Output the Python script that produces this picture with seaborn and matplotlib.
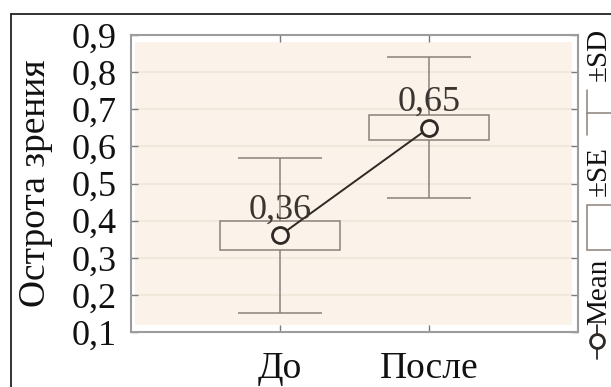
import numpy as np
import matplotlib
matplotlib.use("Agg")
import matplotlib.pyplot as plt
from matplotlib.patches import Rectangle
from matplotlib.lines import Line2D
import seaborn as sns

# Visual acuity before and after treatment: mean, standard error, standard deviation
groups = ["До", "После"]
means = np.array([0.36, 0.65])
se = np.array([0.038, 0.034])
sd = np.array([0.21, 0.19])
mean_labels = ["0,36", "0,65"]

y_ticks = [0.1, 0.2, 0.3, 0.4, 0.5, 0.6, 0.7, 0.8, 0.9]
y_tick_labels = ["0,1", "0,2", "0,3", "0,4", "0,5", "0,6", "0,7", "0,8", "0,9"]
y_label = "Острота зрения"
legend_items = ["Mean", "±SE", "±SD"]

sns.set_theme(style="white")
plt.rcParams["font.family"] = ["Liberation Serif", "DejaVu Serif"]

W, H = 611, 387
fig = plt.figure(figsize=(W / 100, H / 100), dpi=100)


def fx(px):
    return px / W


def fy(py):
    return 1 - py / H


ax = fig.add_axes([fx(131), fy(332), fx(578) - fx(131), fy(35) - fy(332)])

fill = "#FBF3E9"
grid_c = "#F0E6D9"
box_c = "#8C8178"
dark = "#2E2925"

ax.set_facecolor("white")
ax.add_patch(Rectangle((0.009, 0.024), 0.978, 0.952, transform=ax.transAxes,
                       facecolor=fill, edgecolor="none", zorder=0))
for t in y_ticks[1:-1]:
    ax.axhline(t, xmin=0.009, xmax=0.987, color=grid_c, lw=1.2, zorder=0.5)

pos = np.arange(len(groups))
box_w = 0.81
cap_w = 0.57

# ±SD whiskers
ax.vlines(pos, means - sd, means + sd, color=box_c, lw=1.1, zorder=1)
ax.hlines(means - sd, pos - cap_w / 2, pos + cap_w / 2, color=box_c, lw=1.1, zorder=1)
ax.hlines(means + sd, pos - cap_w / 2, pos + cap_w / 2, color=box_c, lw=1.1, zorder=1)

# ±SE boxes
ax.bar(pos, 2 * se, bottom=means - se, width=box_w, facecolor=fill,
       edgecolor=box_c, linewidth=1.1, zorder=2)

# means
sns.pointplot(x=groups, y=means, color=dark, errorbar=None, markers="o",
              markersize=11.5, markerfacecolor=fill, markeredgecolor=dark,
              markeredgewidth=2.0, linewidth=1.4, ax=ax, zorder=5)

for p, m, lab in zip(pos, means, mean_labels):
    ax.annotate(lab, (p, m), xytext=(0, 12), textcoords="offset points",
                ha="center", va="baseline", fontsize=26, color="#3a3530", zorder=6)

ax.set_xlim(-1, 2)
ax.set_ylim(0.1, 0.9)
ax.set_xticks(pos)
ax.set_xticklabels(groups, fontsize=27, color="#111111")
ax.set_yticks(y_ticks)
ax.set_yticklabels(y_tick_labels, fontsize=26, color="#111111")
ax.set_xlabel("")
ax.set_ylabel(y_label, fontsize=27, color="#111111")
ax.yaxis.set_label_coords(-0.175, 0.5)

for s in ax.spines.values():
    s.set_visible(True)
    s.set_color("#9C9C9C")
    s.set_linewidth(1.5)

ax.tick_params(axis="both", which="both", direction="in", length=5, width=1,
               color="#7a7a7a", top=True, right=True, left=True, bottom=True)
ax.tick_params(axis="x", pad=14)
ax.tick_params(axis="y", pad=10)
ax.grid(False)

# outer frame
fig.add_artist(Line2D([fx(11), 1.0], [fy(14), fy(14)], color="#222222", lw=1.3))
fig.add_artist(Line2D([fx(11), fx(11)], [fy(14), 0.0], color="#222222", lw=1.3))

# legend column on the right
lx = 597
fig.add_artist(Line2D([fx(lx), fx(lx)], [fy(325), fy(359)], color=dark, lw=1.3))
fig.add_artist(Line2D([fx(lx)], [fy(341)], marker="o", markersize=10,
                      markerfacecolor="white", markeredgecolor=dark,
                      markeredgewidth=2.0))
fig.text(fx(lx + 2), fy(292), legend_items[0], rotation=90, ha="center",
         va="center", fontsize=21, color="#111111")
fig.add_artist(Rectangle((fx(587), fy(250)), fx(630) - fx(587), fy(205) - fy(250),
                         facecolor="white", edgecolor=box_c, lw=1.1))
fig.text(fx(lx + 2), fy(171), legend_items[1], rotation=90, ha="center",
         va="center", fontsize=21, color="#111111")
fig.add_artist(Line2D([fx(587), fx(587)], [fy(90), fy(135)], color=box_c, lw=1.1))
fig.add_artist(Line2D([fx(587), 1.0], [fy(113), fy(113)], color=box_c, lw=1.1))
fig.text(fx(lx + 2), fy(54), legend_items[2], rotation=90, ha="center",
         va="center", fontsize=21, color="#111111")

fig.savefig("out.png", dpi=100, facecolor="white")
